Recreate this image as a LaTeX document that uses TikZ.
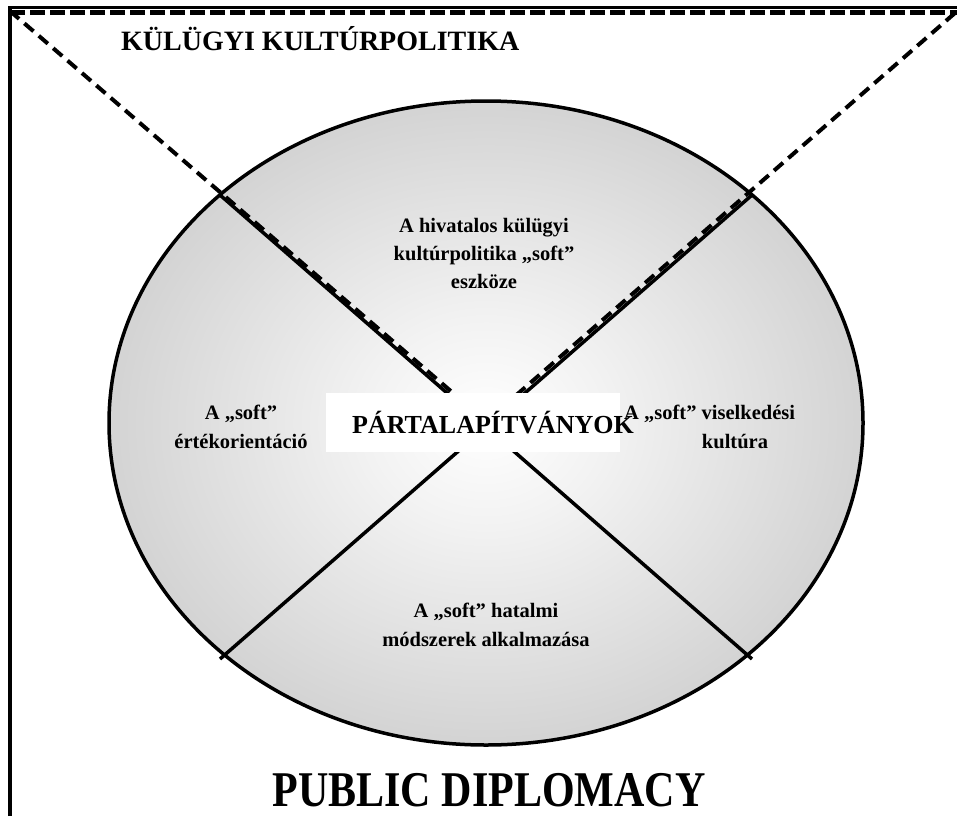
\documentclass[tikz,border=0pt]{standalone}
\usepackage{fontspec}
\setmainfont{Liberation Serif}[BoldFont={Liberation Serif Bold}]
\pgfdeclareradialshading{ellshade}{\pgfpoint{0bp}{0bp}}{color(0bp)=(white); color(8bp)=(white!95!black); color(50bp)=(black!35); color(100bp)=(black!35)}
\tikzset{
  lbl/.style={font=\fontsize{20.5}{24}\selectfont\bfseries, inner sep=0pt, anchor=base},
  xline/.style={line width=3.5pt},
  dline/.style={line width=4pt, dash pattern=on 12pt off 7pt},
}
\begin{document}
\begin{tikzpicture}[x=1pt,y=-1pt]
\useasboundingbox (0,0) rectangle (957,816);
% ellipse
\shade[shading=ellshade] (486,423) ellipse [x radius=377, y radius=322];
\draw[line width=3.5pt] (486,423) ellipse [x radius=377, y radius=322];
% crossing points
\coordinate (tl) at (220,195);
\coordinate (tr) at (752,195);
\coordinate (bl) at (220,659);
\coordinate (br) at (752,659);
\draw[xline] (tl) -- (br);
\draw[xline] (tr) -- (bl);
% frame
\coordinate (ftl) at (9.5,6);
\coordinate (fbl) at (9.5,816);
\coordinate (ftr) at (957,8);
\draw[line width=4pt] (fbl) -- (ftl);
\draw[line width=3pt] (8,8) -- (ftr);
\coordinate (dtl) at (10,12.5);
\coordinate (dtr) at (957,12.5);
\draw[line width=5pt, dash pattern=on 15pt off 5pt] (dtl) -- (dtr);
% dashed diagonals
\coordinate (ds1) at (10,11);
\coordinate (de1) at (482,418);
\coordinate (ds2) at (955,13);
\coordinate (de2) at (490,418);
\draw[dline] (ds1) -- (de1);
\draw[dline] (ds2) -- (de2);
% central white box
\fill[white] (326,393) rectangle (620,452);
\node[font=\fontsize{26}{30}\selectfont\bfseries, inner sep=0pt, anchor=base west] (party) at (352,433) {PÁRTALAPÍTVÁNYOK};
% titles
\node[font=\fontsize{28}{32}\selectfont\bfseries, inner sep=0pt, anchor=base west] (kkp) at (121,50) {KÜLÜGYI KULTÚRPOLITIKA};
\node[font=\fontsize{50}{56}\selectfont\bfseries, inner sep=0pt, anchor=base, xscale=0.84] (pd) at (489,806) {PUBLIC DIPLOMACY};
% sector labels
\node[lbl] (t1) at (484,232) {A hivatalos külügyi};
\node[lbl] (t2) at (484,260) {kultúrpolitika „soft”};
\node[lbl] (t3) at (484,288) {eszköze};
\node[lbl] (l1) at (241,419) {A „soft”};
\node[lbl] (l2) at (241,448) {értékorientáció};
\node[lbl, anchor=base west] (r1) at (624,419) {A „soft” viselkedési};
\node[lbl] (r2) at (735,448) {kultúra};
\node[lbl] (b1) at (486,617) {A „soft” hatalmi};
\node[lbl] (b2) at (486,646) {módszerek alkalmazása};
\end{tikzpicture}
\end{document}
